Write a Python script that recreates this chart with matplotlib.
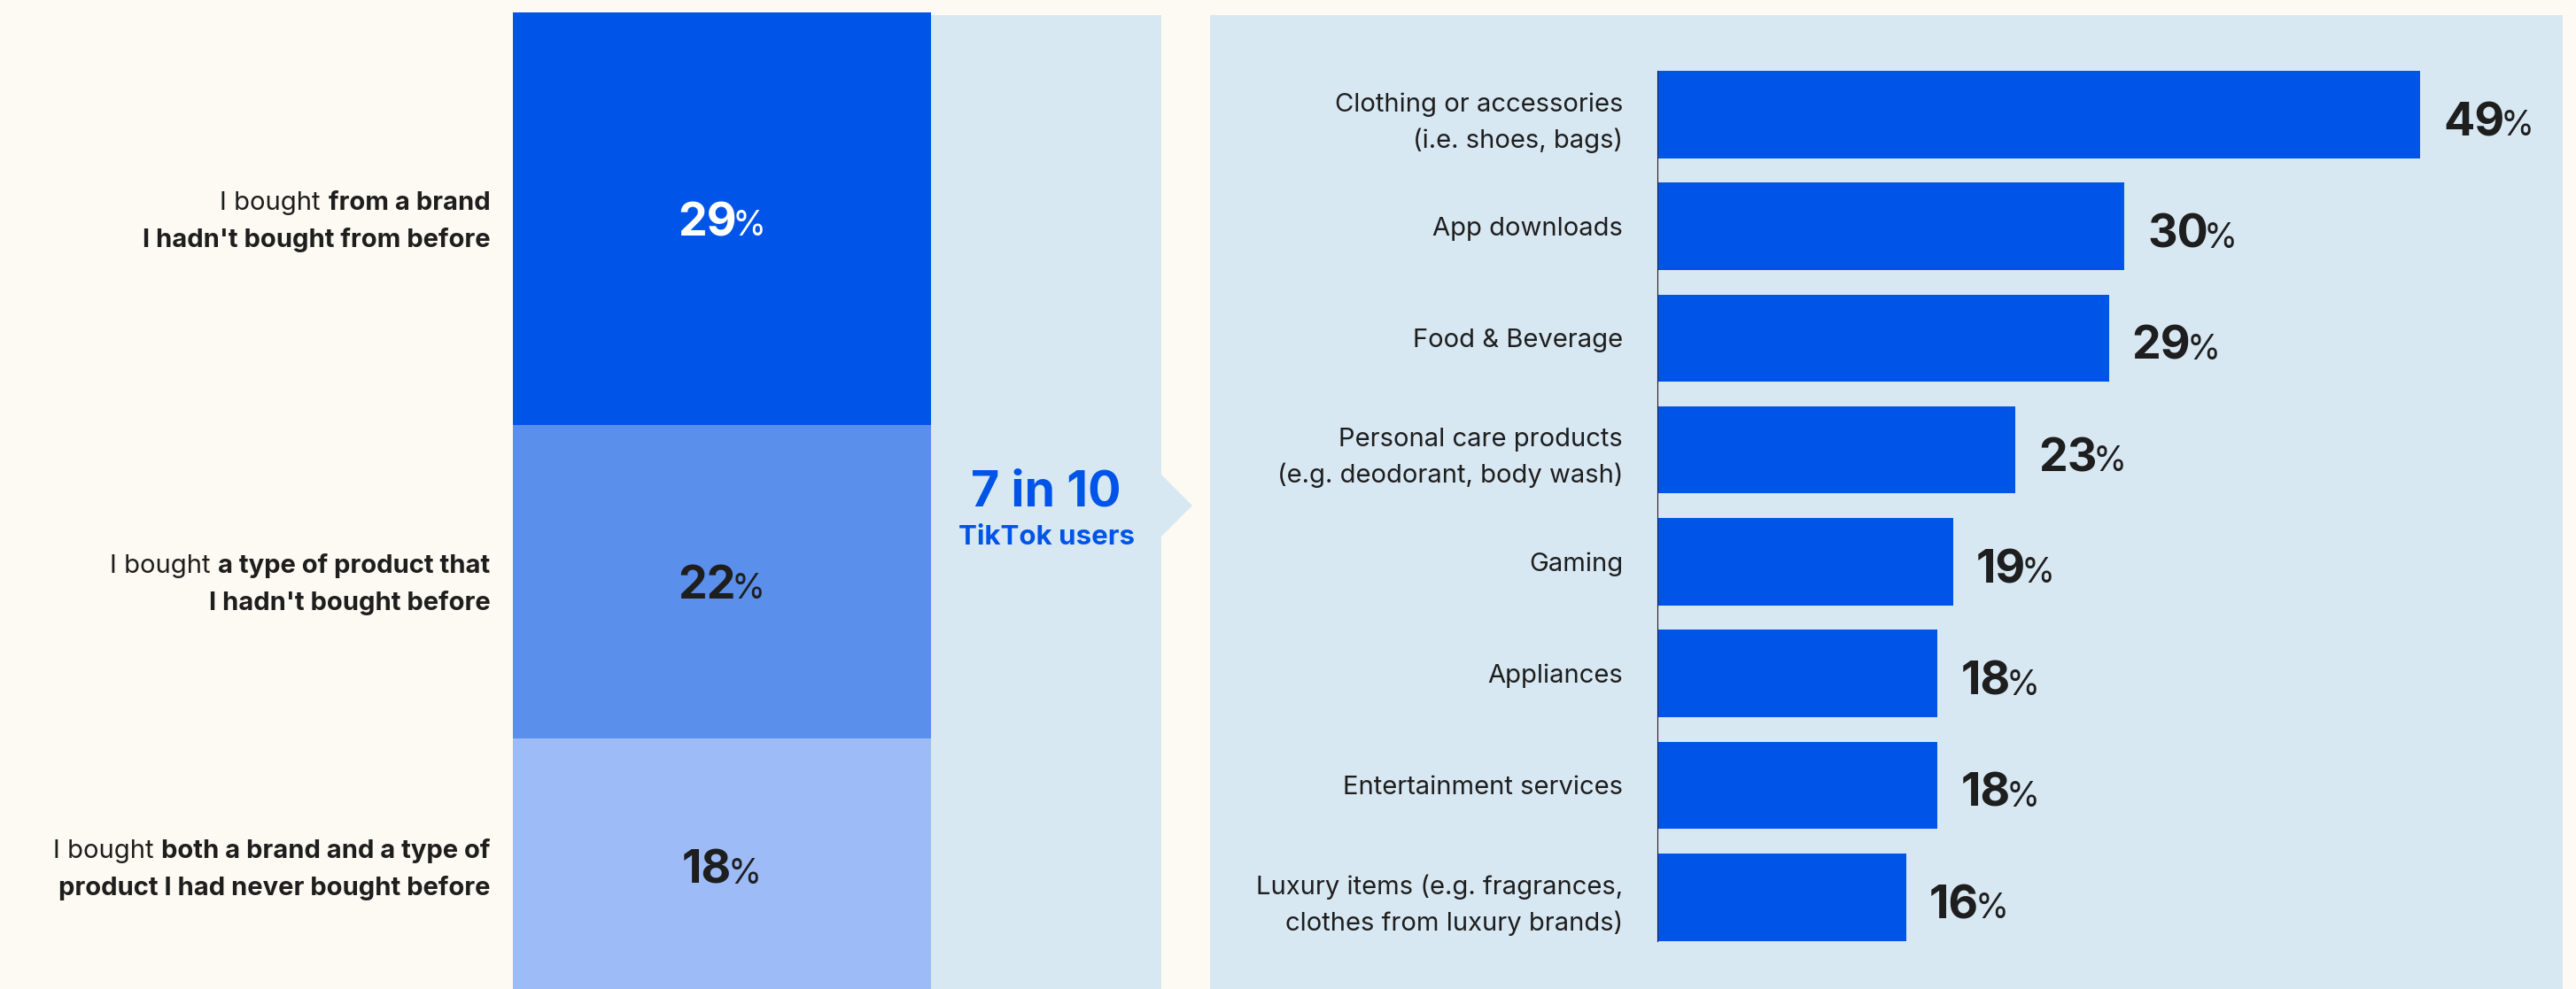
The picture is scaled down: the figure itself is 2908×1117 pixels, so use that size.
import numpy as np
import matplotlib.pyplot as plt
from matplotlib.patches import Rectangle, Polygon

plt.rcParams['font.family'] = ['Inter', 'DejaVu Sans']

# left column: kind of new purchase, one list of (text, bold) pieces per line
segment_lines = [
    [[("I bought", False), ("from a brand", True)],
     [("I hadn't bought from before", True)]],
    [[("I bought", False), ("a type of product that", True)],
     [("I hadn't bought before", True)]],
    [[("I bought", False), ("both a brand and a type of", True)],
     [("product I had never bought before", True)]],
]
segment_values = [29, 22, 18]

headline = "7 in 10"
headline_sub = "TikTok users"

# right chart: categories bought
categories = [
    "Clothing or accessories\n(i.e. shoes, bags)",
    "App downloads",
    "Food & Beverage",
    "Personal care products\n(e.g. deodorant, body wash)",
    "Gaming",
    "Appliances",
    "Entertainment services",
    "Luxury items (e.g. fragrances,\nclothes from luxury brands)",
]
category_values = [49, 30, 29, 23, 19, 18, 18, 16]

BG = '#FCFAF2'
PANEL = '#D8E8F3'
BLUE = '#0055E8'
segment_colors = [BLUE, '#5A8FEB', '#9DBBF7']
segment_text = ['white', '#1E1E1E', '#1E1E1E']
INK = '#1E1E1E'

W, H = 2908, 1117
fig = plt.figure(figsize=(W / 100, H / 100), dpi=100, facecolor=BG)
renderer = fig.canvas.get_renderer()


def box(x0, y0, x1, y1):
    # pixel box measured from the top-left corner -> figure fractions
    return [x0 / W, 1 - y1 / H, (x1 - x0) / W, (y1 - y0) / H]


def fig_rect(x0, y0, x1, y1, color):
    b = box(x0, y0, x1, y1)
    fig.patches.append(Rectangle((b[0], b[1]), b[2], b[3], transform=fig.transFigure,
                                 facecolor=color, edgecolor='none', zorder=-1))


# background panels
fig_rect(1051, 17, 1311, H, PANEL)
fig_rect(1366, 17, 2893, H, PANEL)
fig.patches.append(Polygon([(1311 / W, 1 - 536 / H), (1346 / W, 1 - 571 / H), (1311 / W, 1 - 606 / H)],
                           closed=True, transform=fig.transFigure, facecolor=PANEL,
                           edgecolor='none', zorder=-1))


def pct_label(ax, x, y, value, color, dx=0, dy=-24, centered=False):
    num = ax.annotate(str(value), (x, y), xytext=(dx, dy), textcoords='offset pixels',
                      ha='left', va='baseline', fontsize=37.5, fontweight='bold', color=color)
    sign = ax.annotate('%', (x, y), xytext=(dx, dy), textcoords='offset pixels',
                       ha='left', va='baseline', fontsize=28, color=color)
    w_num = num.get_window_extent(renderer).width
    w_sign = sign.get_window_extent(renderer).width
    gap = -5
    shift = -(w_num + gap + w_sign) / 2 if centered else 0
    num.xyann = (dx + shift, dy)
    sign.xyann = (dx + shift + w_num + gap, dy)


def mixed_line(ax, x, y, pieces, dy, size=21):
    # right aligned line built from the last piece backwards
    offset = -25
    for text, bold in reversed(pieces):
        t = ax.annotate(text, (x, y), xytext=(offset, dy), textcoords='offset pixels',
                        ha='right', va='baseline', fontsize=size, color=INK,
                        fontweight='bold' if bold else 'normal')
        offset -= t.get_window_extent(renderer).width + 9


# stacked column
ax1 = fig.add_axes(box(578.6, 14, 1051, H))
ax1.set_facecolor('none')
bottoms = np.concatenate([[0], np.cumsum(segment_values)[:-1]])
ax1.bar(0, segment_values, bottom=bottoms, width=1, color=segment_colors, linewidth=0)
ax1.set_xlim(-0.5, 0.5)
ax1.set_ylim(68.6, 0)
ax1.axis('off')
for val, b, tc, lines in zip(segment_values, bottoms, segment_text, segment_lines):
    mid = b + val / 2
    pct_label(ax1, 0, mid, val, tc, dy=-19, centered=True)
    mixed_line(ax1, -0.5, mid, lines[0], 10)
    mixed_line(ax1, -0.5, mid, lines[1], -32)

# headline in the middle panel
fig.text(1181 / W, 1 - 572 / H, headline, ha='center', va='baseline',
         fontsize=40, fontweight='bold', color=BLUE)
fig.text(1181 / W, 1 - 615 / H, headline_sub, ha='center', va='baseline',
         fontsize=22.5, fontweight='bold', color=BLUE)

# horizontal bar chart
ax2 = fig.add_axes(box(1871, 66.2, 2893, 1076.4))
ax2.set_facecolor('none')
y = np.arange(len(categories))
ax2.barh(y, category_values, height=0.78, color=BLUE, linewidth=0)
ax2.set_xlim(0, 1022 / 17.57)
ax2.set_ylim(len(categories) - 0.5, -0.5)
for s in ['top', 'right', 'bottom']:
    ax2.spines[s].set_visible(False)
ax2.spines['left'].set_bounds(-0.39, len(categories) - 1 + 0.39)
ax2.spines['left'].set_linewidth(0.8)
ax2.spines['left'].set_color(INK)
ax2.set_xticks([])
ax2.set_yticks(y)
ax2.set_yticklabels(categories, fontsize=21, color=INK, linespacing=1.55, ha='right')
ax2.tick_params(axis='y', length=0, pad=28)
for yi, v in zip(y, category_values):
    pct_label(ax2, v, yi, v, INK, dx=26, dy=-24)

fig.savefig('out.png', dpi=100, facecolor=BG)
